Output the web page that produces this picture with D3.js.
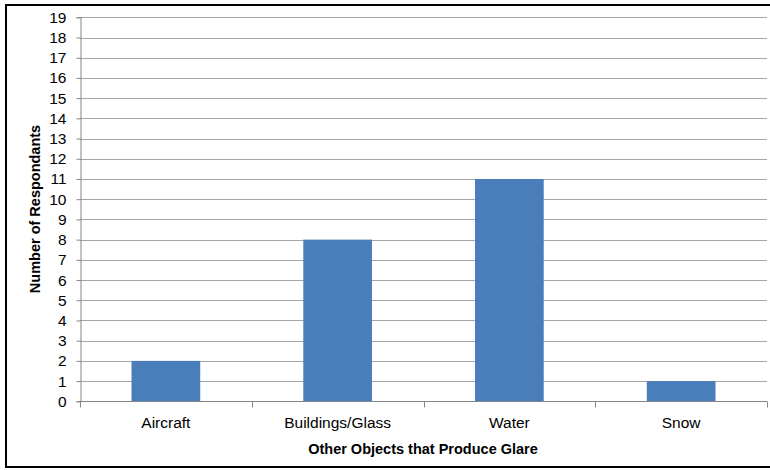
<!DOCTYPE html>
<html>
<head>
<meta charset="utf-8">
<script src="https://cdn.jsdelivr.net/npm/d3@7"></script>
<style>
  html, body { margin: 0; padding: 0; background: #fff; }
  svg text { font-family: "Liberation Sans", Arial, sans-serif; fill: #000; }
</style>
</head>
<body>
<svg id="chart" width="770" height="470"></svg>
<script>
// Survey responses: other objects reported as producing glare
const categories = ["Aircraft", "Buildings/Glass", "Water", "Snow"];
const respondents = [2, 8, 11, 1];
const yTicks = d3.range(0, 20);

const svg = d3.select("#chart");
const margin = { left: 80, right: 3, top: 17.3, bottom: 68.7 };
const W = 770, H = 470;

// outer frame
svg.append("rect")
  .attr("x", 6).attr("y", 5)
  .attr("width", 770).attr("height", 462)
  .attr("fill", "none").attr("stroke", "#000").attr("stroke-width", 2);

const x = d3.scaleBand()
  .domain(categories)
  .range([margin.left, W - margin.right])
  .paddingInner(0.6).paddingOuter(0.3);

const y = d3.scaleLinear()
  .domain([0, 19])
  .range([H - margin.bottom, margin.top]);

// horizontal gridlines
svg.append("g")
  .selectAll("line")
  .data(yTicks.filter(d => d > 0))
  .join("line")
  .attr("x1", margin.left).attr("x2", W - margin.right)
  .attr("y1", d => Math.round(y(d)) + 0.5).attr("y2", d => Math.round(y(d)) + 0.5)
  .attr("stroke", "#a6a6a6").attr("stroke-width", 1);

// bars
svg.append("g")
  .selectAll("rect")
  .data(categories.map((c, i) => ({ c, v: respondents[i] })))
  .join("rect")
  .attr("x", d => x(d.c))
  .attr("width", x.bandwidth())
  .attr("y", d => y(d.v))
  .attr("height", d => y(0) - y(d.v))
  .attr("fill", "#4a7ebb");

// y axis
const yAxis = svg.append("g")
  .attr("transform", `translate(${margin.left + 0.5},0)`)
  .call(d3.axisLeft(y).tickValues(yTicks).tickSize(4).tickPadding(10).tickFormat(d3.format("d")));
yAxis.select(".domain").attr("stroke", "#868686");
yAxis.selectAll(".tick line").attr("stroke", "#868686");
yAxis.selectAll(".tick text").attr("font-size", 15.5).attr("font-family", "Liberation Sans, Arial, sans-serif");

// x axis with boundary ticks between categories
const xg = svg.append("g").attr("transform", `translate(0,${Math.round(y(0)) + 0.5})`);
xg.append("line")
  .attr("x1", margin.left).attr("x2", W - margin.right)
  .attr("stroke", "#868686");
const step = (W - margin.right - margin.left) / categories.length;
xg.selectAll("line.bound")
  .data(d3.range(categories.length + 1))
  .join("line")
  .attr("class", "bound")
  .attr("x1", i => Math.round(margin.left + i * step) + 0.5)
  .attr("x2", i => Math.round(margin.left + i * step) + 0.5)
  .attr("y1", 0).attr("y2", 6)
  .attr("stroke", "#868686");
xg.selectAll("text")
  .data(categories)
  .join("text")
  .attr("x", d => x(d) + x.bandwidth() / 2)
  .attr("y", 26)
  .attr("text-anchor", "middle")
  .attr("font-size", 15.5)
  .text(d => d);

// axis titles
svg.append("text")
  .attr("x", 423).attr("y", 454)
  .attr("text-anchor", "middle")
  .attr("font-size", 14.5).attr("font-weight", "bold")
  .text("Other Objects that Produce Glare");

svg.append("text")
  .attr("transform", "translate(40,209) rotate(-90)")
  .attr("text-anchor", "middle")
  .attr("font-size", 14.5).attr("font-weight", "bold")
  .text("Number of Respondants");
</script>
</body>
</html>
